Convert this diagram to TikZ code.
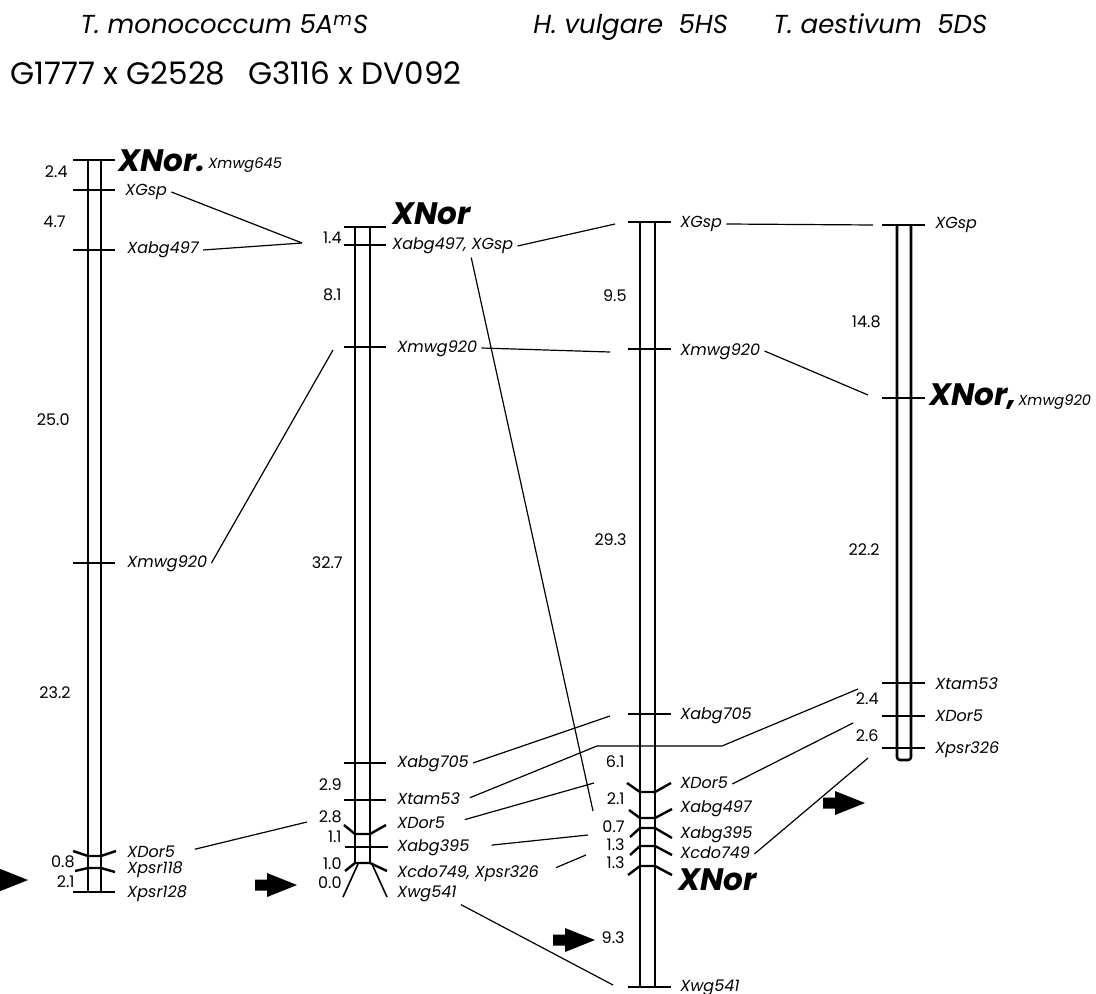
\documentclass[tikz,border=0pt]{standalone}
\usepackage{fontspec}
\setmainfont{Poppins}
\usetikzlibrary{positioning}

\begin{document}
\begin{tikzpicture}[
    x=0.5pt, y=-0.5pt,
    chrom/.style={line width=1.3pt},
    tick/.style={line width=1.2pt},
    link/.style={line width=0.6pt},
    markLab/.style={
        font=\fontsize{8}{9}\selectfont\itshape,
        anchor=base west, inner sep=2pt,
        text height=5.6pt, text depth=1.6pt
    },
    smallLab/.style={markLab, font=\fontsize{7.3}{8}\selectfont\itshape},
    distLab/.style={font=\fontsize{8}{9}\selectfont, anchor=base east, inner sep=1pt},
    norLab/.style={font=\fontsize{15.5}{17}\selectfont\bfseries\itshape, anchor=base west, inner sep=1pt},
    speciesLab/.style={font=\fontsize{13}{14}\selectfont\itshape, anchor=base west, inner sep=0pt},
    crossLab/.style={font=\fontsize{15.5}{16}\selectfont, anchor=base west, inner sep=0pt},
    blockArrow/.pic={\fill (0,-5.5) -- (12,-5.5) -- (12,-12) -- (42,0) -- (12,12) -- (12,5.5) -- (0,5.5) -- cycle;}
]
\useasboundingbox (0,0) rectangle (1096,994);

% headings
\node[speciesLab] (monoTitle) at (80,34) {T. monococcum 5A\textsuperscript{m}S};
\node[speciesLab] (vulgTitle) at (533,34) {H. vulgare\ \ 5HS};
\node[speciesLab] (aestTitle) at (773,34) {T. aestivum\ \ 5DS};
\node[crossLab] (crossA) at (10,85) {G1777 x G2528};
\node[crossLab] (crossB) at (248,85) {G3116 x DV092};

% chromosome 1: G1777 x G2528
\draw[chrom] (88,160) -- (88,892) (101,160) -- (101,892);
\foreach \y in {160,190,250,563,892}
  \draw[tick] (73,\y) -- (115,\y);
\draw[tick] (73,851) -- (88,856) -- (101,856) -- (116,851);
\draw[tick] (75,871) -- (88,868) -- (101,868) -- (115,872);

\node[norLab] (c1Nor) at (116,172) {XNor.};
\node[smallLab] (c1Mwg645) at (204,169) {Xmwg645};
\node[markLab] (c1Gsp) at (121,196) {XGsp};
\node[markLab] (c1Abg497) at (123,254) {Xabg497};
\node[markLab] (c1Mwg920) at (123,567) {Xmwg920};
\node[markLab] (c1Dor5) at (123,857) {XDor5};
\node[markLab] (c1Psr118) at (123,873) {Xpsr118};
\node[markLab] (c1Psr128) at (123,897) {Xpsr128};

\node[distLab] (c1dA) at (70,178) {2.4};
\node[distLab] (c1dB) at (68,228) {4.7};
\node[distLab] (c1dC) at (72,425) {25.0};
\node[distLab] (c1dD) at (73,698) {23.2};
\node[distLab] (c1dE) at (77,867) {0.8};
\node[distLab] (c1dF) at (77,887) {2.1};

% chromosome 2: G3116 x DV092
\draw[chrom] (355,227) -- (355,863) -- (370,863) -- (370,227);
\foreach \y in {227,245,347,763,800}
  \draw[tick] (344,\y) -- (386,\y);
\draw[tick] (344,825) -- (355,834) -- (370,834) -- (386,825);
\draw[tick] (345,847) -- (388,847);
\draw[tick] (345,871) -- (355,863) -- (370,863) -- (387,871);
\draw[link, line width=0.8pt] (358,864) -- (343,897) (372,864) -- (387,897);

\node[norLab] (c2Nor) at (390,225) {XNor};
\node[markLab] (c2Abg497) at (388,250) {Xabg497,};
\node[markLab, right=-2pt of c2Abg497] (c2Gsp) {XGsp};
\node[markLab] (c2Mwg920) at (393,352) {Xmwg920};
\node[markLab] (c2Abg705) at (393,767) {Xabg705};
\node[markLab] (c2Tam53) at (393,804) {Xtam53};
\node[markLab] (c2Dor5) at (393,828) {XDor5};
\node[markLab] (c2Abg395) at (393,851) {Xabg395};
\node[markLab] (c2CdoPsr) at (393,877) {Xcdo749, Xpsr326};
\node[markLab] (c2Wg541) at (393,897) {Xwg541};

\node[distLab] (c2dA) at (344,244) {1.4};
\node[distLab] (c2dB) at (344,300) {8.1};
\node[distLab] (c2dC) at (345,568) {32.7};
\node[distLab] (c2dD) at (344,790) {2.9};
\node[distLab] (c2dE) at (344,822) {2.8};
\node[distLab] (c2dF) at (344,842) {1.1};
\node[distLab] (c2dG) at (344,869) {1.0};
\node[distLab] (c2dH) at (344,888) {0.0};

% chromosome 3: H. vulgare 5HS
\draw[chrom] (640,222) -- (640,987) (655,222) -- (655,987);
\foreach \y in {222,349,714,987}
  \draw[tick] (628,\y) -- (671,\y);
\draw[tick] (627,783) -- (640,792) -- (655,792) -- (671,783);
\draw[tick] (629,810) -- (640,818) -- (655,818) -- (672,809);
\draw[tick] (630,837) -- (640,828) -- (655,828) -- (672,838);
\draw[tick] (630,855) -- (640,846) -- (655,846) -- (672,855);
\draw[tick] (628,875) -- (640,866) -- (655,866) -- (672,875);

\node[markLab] (c3Gsp) at (676,228) {XGsp};
\node[markLab] (c3Mwg920) at (676,355) {Xmwg920};
\node[markLab] (c3Abg705) at (676,719) {Xabg705};
\node[markLab] (c3Dor5) at (676,788) {XDor5};
\node[markLab] (c3Abg497) at (676,812) {Xabg497};
\node[markLab] (c3Abg395) at (676,838) {Xabg395};
\node[markLab] (c3Cdo749) at (676,858) {Xcdo749};
\node[norLab] (c3Nor) at (676,890) {XNor};
\node[markLab] (c3Wg541) at (676,991) {Xwg541};

\node[distLab] (c3dA) at (629,302) {9.5};
\node[distLab] (c3dB) at (629,545) {29.3};
\node[distLab] (c3dC) at (627,767) {6.1};
\node[distLab] (c3dD) at (627,804) {2.1};
\node[distLab] (c3dE) at (627,832) {0.7};
\node[distLab] (c3dF) at (627,850) {1.3};
\node[distLab] (c3dG) at (627,868) {1.3};
\node[distLab] (c3dH) at (627,943) {9.3};

% chromosome 4: T. aestivum 5DS
\draw[chrom, rounded corners=1.5pt] (897,225) -- (897,760) -- (911,760) -- (911,225);
\foreach \y in {225,398,683,716,748}
  \draw[tick] (882,\y) -- (925,\y);

\node[markLab] (c4Gsp) at (931,229) {XGsp};
\node[norLab] (c4Nor) at (927,405) {XNor,};
\node[smallLab] (c4Mwg920) at (1014,405) {Xmwg920};
\node[markLab] (c4Tam53) at (931,689) {Xtam53};
\node[markLab] (c4Dor5) at (931,721) {XDor5};
\node[markLab] (c4Psr326) at (931,753) {Xpsr326};

\node[distLab] (c4dA) at (883,328) {14.8};
\node[distLab] (c4dB) at (882,555) {22.2};
\node[distLab] (c4dC) at (881,704) {2.4};
\node[distLab] (c4dD) at (881,741) {2.6};

% block arrows marking the XNor intervals
\begin{scope}
  \clip (0,0) rectangle (1096,994);
  \pic (arrowA) at (-14,880) {blockArrow};
\end{scope}
\pic (arrowB) at (255,885) {blockArrow};
\pic (arrowC) at (553,940) {blockArrow};
\pic (arrowD) at (823,803) {blockArrow};

% free ends of the links, next to the target chromosome
\coordinate (inGsp2) at (302,243);
\coordinate (inMwg2) at (333,350);
\coordinate (inDor2) at (307,822);
\coordinate (inTop3) at (615,224);
\coordinate (inAbg497c3) at (593,811);
\coordinate (inMwg3) at (610,352);
\coordinate (inAbg705c3) at (610,716);
\coordinate (tamBendA) at (597,746);
\coordinate (tamBendB) at (722,746);
\coordinate (inTam4) at (858,689);
\coordinate (inDor3) at (594,783);
\coordinate (inAbg395c3) at (588,835);
\coordinate (inCdo3) at (586,855);
\coordinate (inWg3) at (613,985);
\coordinate (inGsp4) at (873,225);
\coordinate (inNor4) at (868,395);
\coordinate (inDor4) at (853,723);
\coordinate (inPsr4) at (868,758);

\draw[link] (c1Gsp.east) -- (inGsp2);
\draw[link] (c1Abg497.east) -- (inGsp2);
\draw[link] (c1Mwg920.east) -- (inMwg2);
\draw[link, shorten <=8pt] (c1Dor5.east) -- (inDor2);
\draw[link] (c2Gsp.east) -- (inTop3);
\draw[link] (c2Abg497.south east) -- (inAbg497c3);
\draw[link] (c2Mwg920.east) -- (inMwg3);
\draw[link] (c2Abg705.east) -- (inAbg705c3);
\draw[link, shorten <=3pt] (c2Tam53.east) -- (tamBendA) -- (tamBendB) -- (inTam4);
\draw[link, shorten <=8pt] (c2Dor5.east) -- (inDor3);
\draw[link, shorten <=9pt] (c2Abg395.east) -- (inAbg395c3);
\draw[link, shorten <=7pt] (c2CdoPsr.east) -- (inCdo3);
\draw[link] (c2Wg541.south east) -- (inWg3);
\draw[link] (c3Gsp.east) -- (inGsp4);
\draw[link] (c3Mwg920.east) -- (inNor4);
\draw[link] (c3Dor5.east) -- (inDor4);
\draw[link] (c3Cdo749.east) -- (inPsr4);

\end{tikzpicture}
\end{document}
